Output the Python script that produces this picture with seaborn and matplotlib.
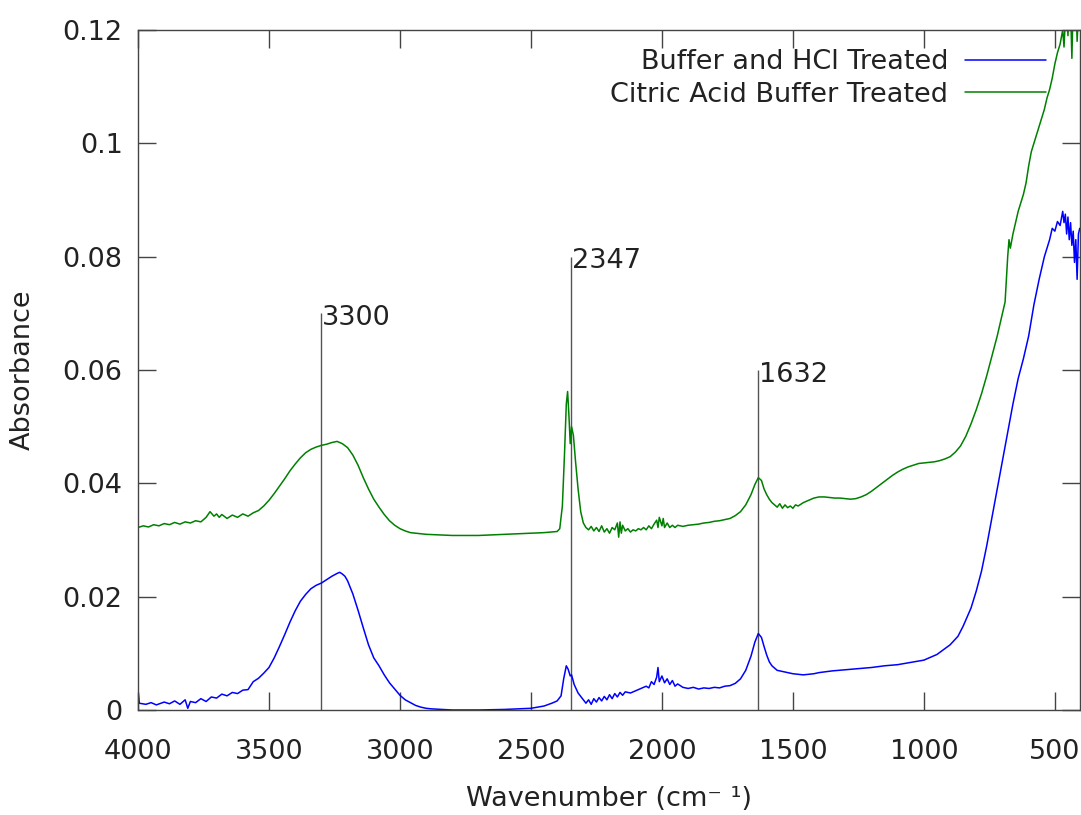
import matplotlib
matplotlib.use("Agg")
import matplotlib.pyplot as plt
import seaborn as sns
import pandas as pd

# ---- data ----
blue_label = "Buffer and HCl Treated"
green_label = "Citric Acid Buffer Treated"

blue_x = [4000, 3995, 3970, 3950, 3930, 3900, 3880, 3860, 3840, 3820, 3810, 3800, 3780, 3760, 3740,
          3720, 3700, 3680, 3660, 3640, 3620, 3600, 3580, 3560, 3540, 3520, 3500, 3480, 3460, 3440,
          3420, 3400, 3380, 3360, 3340, 3320, 3300, 3280, 3260, 3240, 3230, 3220, 3210, 3200, 3180,
          3160, 3140, 3120, 3100, 3080, 3060, 3040, 3020, 3000, 2980, 2960, 2940, 2920, 2900, 2880,
          2800, 2700, 2600, 2500, 2450, 2420, 2400, 2385, 2375, 2365, 2358, 2350, 2345, 2335, 2320,
          2300, 2290, 2280, 2270, 2260, 2250, 2240, 2230, 2220, 2210, 2200, 2190, 2180, 2170, 2160,
          2150, 2140, 2120, 2100, 2080, 2060, 2050, 2040, 2030, 2020, 2015, 2010, 2000, 1990, 1980,
          1970, 1960, 1950, 1940, 1920, 1900, 1880, 1860, 1840, 1820, 1800, 1780, 1760, 1740, 1720,
          1700, 1680, 1660, 1645, 1632, 1620, 1610, 1600, 1590, 1580, 1570, 1560, 1540, 1520, 1500,
          1480, 1460, 1440, 1420, 1400, 1350, 1300, 1250, 1200, 1150, 1100, 1050, 1000, 950, 900,
          870, 850, 820, 800, 780, 760, 740, 720, 700, 680, 660, 640, 620, 600, 580,
          560, 540, 520, 510, 500, 490, 480, 470, 465, 460, 455, 450, 445, 440, 435,
          430, 425, 420, 415, 410, 405]
blue_y = [0.0035, 0.0012, 0.0010, 0.0013, 0.0009, 0.0014, 0.0011, 0.0016, 0.0010, 0.0018, 0.0003, 0.0015, 0.0013, 0.0020, 0.0015,
          0.0023, 0.0021, 0.0028, 0.0025, 0.0031, 0.0029, 0.0035, 0.0036, 0.0050, 0.0056, 0.0065, 0.0075, 0.0092, 0.0112, 0.0133,
          0.0155, 0.0175, 0.0192, 0.0204, 0.0214, 0.0220, 0.0224, 0.0230, 0.0236, 0.0241, 0.0243, 0.0240, 0.0236, 0.0228, 0.0205,
          0.0176, 0.0145, 0.0115, 0.0092, 0.0078, 0.0062, 0.0048, 0.0037, 0.0026, 0.0018, 0.0013, 0.0008, 0.0005, 0.0003, 0.0002,
          0.0000, 0.0000, 0.0001, 0.0003, 0.0007, 0.0012, 0.0016, 0.0025, 0.0055, 0.0078, 0.0072, 0.0060, 0.0062, 0.0045, 0.0030,
          0.0018, 0.0012, 0.0018, 0.0010, 0.0020, 0.0014, 0.0022, 0.0016, 0.0024, 0.0018, 0.0027, 0.0020, 0.0029, 0.0023, 0.0031,
          0.0026, 0.0032, 0.0030, 0.0034, 0.0038, 0.0042, 0.0039, 0.0050, 0.0045, 0.0058, 0.0075, 0.0050, 0.0060, 0.0048, 0.0055,
          0.0045, 0.0052, 0.0042, 0.0046, 0.0040, 0.0038, 0.0040, 0.0037, 0.0039, 0.0038, 0.0040, 0.0039, 0.0042, 0.0043, 0.0047,
          0.0055, 0.0070, 0.0095, 0.0120, 0.0135, 0.0128, 0.0112, 0.0097, 0.0085, 0.0078, 0.0074, 0.0070, 0.0068, 0.0066, 0.0064,
          0.0063, 0.0062, 0.0063, 0.0064, 0.0066, 0.0069, 0.0071, 0.0073, 0.0075, 0.0078, 0.0080, 0.0084, 0.0088, 0.0098, 0.0115,
          0.0130, 0.0148, 0.0180, 0.0210, 0.0245, 0.0290, 0.0340, 0.0390, 0.0440, 0.0490, 0.0540, 0.0585, 0.0620, 0.0660, 0.0715,
          0.0760, 0.0800, 0.0830, 0.0850, 0.0845, 0.0862, 0.0855, 0.0880, 0.0860, 0.0875, 0.0840, 0.0870, 0.0830, 0.0860, 0.0820,
          0.0845, 0.0790, 0.0830, 0.0760, 0.0840, 0.0850]

green_x = [4000, 3980, 3960, 3940, 3920, 3900, 3880, 3860, 3840, 3820, 3800, 3780, 3760, 3740, 3725,
           3710, 3700, 3690, 3680, 3660, 3640, 3620, 3600, 3580, 3560, 3540, 3520, 3500, 3480, 3460,
           3440, 3420, 3400, 3380, 3360, 3340, 3320, 3300, 3280, 3260, 3240, 3220, 3200, 3180, 3160,
           3140, 3120, 3100, 3080, 3060, 3040, 3020, 3000, 2980, 2960, 2940, 2900, 2850, 2800, 2750,
           2700, 2650, 2600, 2550, 2500, 2450, 2400, 2390, 2380, 2372, 2365, 2360, 2355, 2350, 2345,
           2338, 2330, 2320, 2310, 2300, 2290, 2280, 2270, 2260, 2250, 2240, 2230, 2220, 2210, 2200,
           2190, 2180, 2170, 2165, 2160, 2155, 2150, 2140, 2130, 2120, 2110, 2100, 2090, 2080, 2070,
           2060, 2050, 2040, 2030, 2020, 2015, 2010, 2000, 1995, 1990, 1980, 1970, 1960, 1950, 1940,
           1920, 1900, 1880, 1860, 1840, 1820, 1800, 1780, 1760, 1740, 1720, 1700, 1680, 1660, 1645,
           1632, 1620, 1610, 1600, 1590, 1580, 1570, 1560, 1550, 1540, 1530, 1520, 1510, 1500, 1490,
           1480, 1460, 1440, 1420, 1400, 1380, 1360, 1340, 1320, 1300, 1280, 1260, 1240, 1220, 1200,
           1180, 1160, 1140, 1120, 1100, 1080, 1060, 1040, 1020, 1000, 980, 960, 940, 920, 900,
           880, 860, 840, 820, 800, 780, 760, 740, 720, 700, 690, 680, 675, 670, 660,
           650, 640, 630, 620, 610, 600, 590, 580, 570, 560, 550, 540, 530, 520, 510,
           500, 490, 480, 470, 465, 460, 455, 450, 445, 440, 435, 430, 425, 420, 415,
           410, 405]
green_y = [0.0322, 0.0325, 0.0323, 0.0327, 0.0325, 0.0329, 0.0327, 0.0331, 0.0328, 0.0332, 0.0330, 0.0334, 0.0332, 0.0340, 0.0350,
           0.0342, 0.0346, 0.0340, 0.0345, 0.0338, 0.0344, 0.0340, 0.0346, 0.0342, 0.0348, 0.0352, 0.0360, 0.0370, 0.0382, 0.0395,
           0.0408, 0.0422, 0.0434, 0.0445, 0.0454, 0.0460, 0.0464, 0.0467, 0.0469, 0.0472, 0.0474, 0.0470, 0.0463, 0.0450, 0.0432,
           0.0410, 0.0390, 0.0372, 0.0358, 0.0345, 0.0334, 0.0326, 0.0320, 0.0316, 0.0313, 0.0312, 0.0310, 0.0309, 0.0308, 0.0308,
           0.0308, 0.0309, 0.0310, 0.0311, 0.0312, 0.0313, 0.0315, 0.0320, 0.0360, 0.0450, 0.0540, 0.0562, 0.0520, 0.0470, 0.0500,
           0.0485, 0.0440, 0.0390, 0.0350, 0.0330, 0.0322, 0.0318, 0.0324, 0.0316, 0.0322, 0.0315, 0.0325, 0.0314, 0.0320, 0.0312,
           0.0322, 0.0318, 0.0330, 0.0305, 0.0332, 0.0312, 0.0326, 0.0316, 0.0320, 0.0314, 0.0318, 0.0316, 0.0320, 0.0318, 0.0322,
           0.0318, 0.0325, 0.0320, 0.0328, 0.0335, 0.0322, 0.0340, 0.0325, 0.0338, 0.0322, 0.0330, 0.0322, 0.0326, 0.0322, 0.0326,
           0.0324, 0.0326, 0.0327, 0.0328, 0.0330, 0.0331, 0.0333, 0.0334, 0.0336, 0.0338, 0.0343, 0.0350, 0.0362, 0.0380, 0.0398,
           0.0410, 0.0405, 0.0390, 0.0380, 0.0372, 0.0366, 0.0362, 0.0358, 0.0364, 0.0356, 0.0362, 0.0357, 0.0360, 0.0356, 0.0362,
           0.0360, 0.0366, 0.0370, 0.0374, 0.0376, 0.0376, 0.0375, 0.0374, 0.0374, 0.0373, 0.0372, 0.0373, 0.0376, 0.0380, 0.0386,
           0.0393, 0.0400, 0.0407, 0.0414, 0.0420, 0.0425, 0.0429, 0.0432, 0.0435, 0.0436, 0.0437, 0.0438, 0.0440, 0.0443, 0.0447,
           0.0455, 0.0466, 0.0483, 0.0505, 0.0530, 0.0558, 0.0590, 0.0625, 0.0660, 0.0700, 0.0720, 0.0800, 0.0830, 0.0815, 0.0840,
           0.0860, 0.0880, 0.0895, 0.0910, 0.0930, 0.0960, 0.0985, 0.1000, 0.1015, 0.1030, 0.1045, 0.1060, 0.1080, 0.1095, 0.1115,
           0.1140, 0.1160, 0.1175, 0.1200, 0.1170, 0.1220, 0.1250, 0.1190, 0.1260, 0.1240, 0.1150, 0.1250, 0.1230, 0.1260, 0.1180,
           0.1230, 0.1250]

peak_pos = [3300, 2347, 1632]
peak_top = [0.07, 0.08, 0.06]
peak_labels = ["3300", "2347", "1632"]

x_ticks = [4000, 3500, 3000, 2500, 2000, 1500, 1000, 500]
y_ticks = [0, 0.02, 0.04, 0.06, 0.08, 0.1, 0.12]
y_tick_labels = ["0", "0.02", "0.04", "0.06", "0.08", "0.1", "0.12"]

# ---- plotting ----
sns.set_theme(style="white")
plt.rcParams["font.family"] = ["DejaVu Sans"]

df = pd.concat([
    pd.DataFrame({"wn": blue_x, "abs": blue_y, "series": blue_label}),
    pd.DataFrame({"wn": green_x, "abs": green_y, "series": green_label}),
], ignore_index=True)

fig = plt.figure(figsize=(10.81, 8.15), dpi=100)
ax = fig.add_axes([138 / 1081, 1 - 710 / 815, (1080 - 138) / 1081, (710 - 30) / 815])

FS = 19.5
TFS = 19.5
TXT = "#222222"
sns.lineplot(data=df, x="wn", y="abs", hue="series", estimator=None, sort=False,
             palette={blue_label: "#0000ff", green_label: "#008000"},
             linewidth=1.1, ax=ax, legend=True)

ax.vlines(peak_pos, 0, peak_top, color="#555555", linewidth=1.0, zorder=1)
for p, t, lab in zip(peak_pos, peak_top, peak_labels):
    ax.annotate(lab, xy=(p, t), xytext=(0.5, -8.5), textcoords="offset points",
                ha="left", va="baseline", fontsize=FS, color=TXT)

ax.set_xlim(4000, 404)
ax.set_ylim(0, 0.12)
ax.set_xticks(x_ticks)
ax.set_xticklabels([str(v) for v in x_ticks])
ax.set_yticks(y_ticks)
ax.set_yticklabels(y_tick_labels)

for s in ax.spines.values():
    s.set_color("#444444")
    s.set_linewidth(1.0)
    s.set_visible(True)

ax.tick_params(axis="both", which="major", direction="in", length=13, width=1.0,
               color="#444444", labelsize=TFS, labelcolor=TXT,
               top=True, right=True, bottom=True, left=True)
ax.tick_params(axis="x", pad=21)
ax.tick_params(axis="y", pad=11)

ax.set_xlabel("Wavenumber (cm\u207b \u00b9)", fontsize=FS, color=TXT, labelpad=15)
ax.set_ylabel("Absorbance", fontsize=FS, color=TXT, labelpad=19)

handles, labels = ax.get_legend_handles_labels()
ax.legend(handles, labels, loc="upper right", frameon=False, markerfirst=False,
          fontsize=FS, handlelength=3.0, handletextpad=0.6, labelspacing=0.25,
          borderpad=0, borderaxespad=0,
          bbox_to_anchor=(1046 / 1081, 1 - 49 / 815), bbox_transform=fig.transFigure)
for t in ax.get_legend().get_texts():
    t.set_color(TXT)

fig.savefig("out.png", dpi=100)
